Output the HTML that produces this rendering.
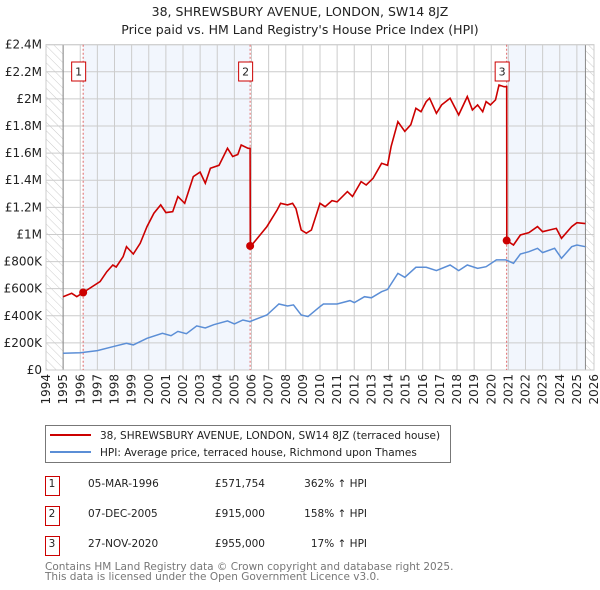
<!DOCTYPE html>
<html><head><meta charset="utf-8">
<style>
body{margin:0;background:#fff;font-family:"Liberation Sans","DejaVu Sans",sans-serif;}
#wrap{position:relative;width:600px;height:590px;overflow:hidden;}
svg text{font-family:"DejaVu Sans","Liberation Sans",sans-serif;}
</style></head>
<body>
<div id="wrap">
<svg id="chart" width="600" height="590" viewBox="0 0 600 590">
<defs>
<pattern id="hatch" width="6" height="6" patternUnits="userSpaceOnUse" patternTransform="rotate(-45)">
<rect width="6" height="6" fill="#fff"/><line x1="0" y1="0" x2="0" y2="6" stroke="#ccc" stroke-width="1"/>
</pattern>
</defs>
<text x="300" y="16" text-anchor="middle" font-size="12.5" fill="#222">38, SHREWSBURY AVENUE, LONDON, SW14 8JZ</text>
<text x="300" y="34" text-anchor="middle" font-size="12.5" fill="#222">Price paid vs. HM Land Registry's House Price Index (HPI)</text>
<g id="plot"></g>
<g>
<rect x="45.5" y="425.5" width="405" height="37" fill="#fff" stroke="#777"/>
<line x1="50" y1="435" x2="91" y2="435" stroke="#cc0000" stroke-width="2"/>
<text x="100" y="439" font-size="10.5" fill="#222">38, SHREWSBURY AVENUE, LONDON, SW14 8JZ (terraced house)</text>
<line x1="50" y1="452" x2="91" y2="452" stroke="#5b8ed6" stroke-width="2"/>
<text x="100" y="456" font-size="10.5" fill="#222">HPI: Average price, terraced house, Richmond upon Thames</text>
</g>
<g id="table"></g>
<text x="45" y="570" font-size="10.5" fill="#777">Contains HM Land Registry data © Crown copyright and database right 2025.</text>
<text x="45" y="580" font-size="10.5" fill="#777">This data is licensed under the Open Government Licence v3.0.</text>
</svg>
</div>
<script>
const hpiYears=[1995.0,1996.0,1997.0,1997.9,1998.7,1999.1,1999.9,2000.8,2001.3,2001.7,2002.2,2002.8,2003.3,2003.8,2004.6,2005.0,2005.5,2005.9,2006.9,2007.6,2008.1,2008.45,2008.9,2009.3,2010.0,2010.2,2011.0,2011.75,2012.0,2012.6,2013.0,2013.6,2013.95,2014.55,2014.95,2015.6,2016.2,2016.8,2017.6,2018.1,2018.6,2019.2,2019.7,2020.3,2020.85,2021.3,2021.7,2022.2,2022.7,2023.0,2023.7,2024.1,2024.7,2025.0,2025.5];
const hpiValues=[123000,128000,143000,172000,197000,185000,234000,271000,253000,285000,268000,325000,310000,334000,362000,340000,369000,357000,406000,487000,472000,480000,406000,394000,468000,487000,487000,512000,497000,541000,533000,578000,595000,713000,684000,758000,758000,733000,775000,733000,775000,750000,762000,812000,812000,787000,856000,873000,898000,866000,898000,824000,910000,922000,910000];
const priceYears=[1995.0,1995.5,1995.8,1996.17,1997.16,1997.55,1997.9,1998.1,1998.5,1998.7,1999.1,1999.5,1999.9,2000.3,2000.7,2001.0,2001.4,2001.7,2002.1,2002.6,2003.0,2003.3,2003.6,2004.1,2004.6,2004.9,2005.2,2005.4,2005.8,2005.92,2005.93,2006.1,2006.9,2007.5,2007.7,2008.1,2008.4,2008.6,2008.9,2009.2,2009.5,2010.0,2010.3,2010.7,2011.0,2011.6,2011.9,2012.4,2012.7,2013.1,2013.6,2013.95,2014.15,2014.55,2014.95,2015.3,2015.6,2015.9,2016.2,2016.4,2016.8,2017.1,2017.6,2018.1,2018.6,2018.9,2019.2,2019.5,2019.7,2019.95,2020.25,2020.45,2020.75,2020.9,2020.91,2021.3,2021.7,2022.2,2022.7,2023.0,2023.4,2023.8,2024.1,2024.7,2025.0,2025.5];
const priceValues=[541000,566000,541000,572000,652000,725000,775000,760000,836000,910000,856000,935000,1058000,1157000,1218000,1161000,1168000,1279000,1230000,1427000,1460000,1378000,1489000,1510000,1636000,1575000,1590000,1660000,1636000,1636000,915000,935000,1058000,1181000,1230000,1218000,1230000,1190000,1033000,1009000,1033000,1230000,1205000,1250000,1240000,1316000,1280000,1390000,1365000,1414000,1525000,1510000,1648000,1832000,1760000,1810000,1931000,1906000,1980000,2005000,1894000,1956000,2005000,1882000,2017000,1919000,1956000,1906000,1980000,1956000,1993000,2103000,2090000,2090000,955000,922000,996000,1013000,1058000,1020000,1033000,1045000,972000,1058000,1087000,1080000];
const saleLabels=["1","2","3"];
const saleYears=[1996.17,2005.92,2020.9];
const salePrices=[571754,915000,955000];
const saleDates=["05-MAR-1996","07-DEC-2005","27-NOV-2020"];
const salePriceText=["£571,754","£915,000","£955,000"];
const saleHpiText=["362% ↑ HPI","158% ↑ HPI","17% ↑ HPI"];
const yTickValues=[0,200000,400000,600000,800000,1000000,1200000,1400000,1600000,1800000,2000000,2200000,2400000];
const yTickLabels=["£0","£200K","£400K","£600K","£800K","£1M","£1.2M","£1.4M","£1.6M","£1.8M","£2M","£2.2M","£2.4M"];
const xTickYears=[1994,1995,1996,1997,1998,1999,2000,2001,2002,2003,2004,2005,2006,2007,2008,2009,2010,2011,2012,2013,2014,2015,2016,2017,2018,2019,2020,2021,2022,2023,2024,2025,2026];

const NS="http://www.w3.org/2000/svg";
const L=46,R=594,T=44.7,B=370,X0=1994,X1=2026,YMAX=2400000;
const xs=y=>L+(y-X0)/(X1-X0)*(R-L);
const ys=v=>B-v/YMAX*(B-T);
const plot=document.getElementById('plot');
function mk(tag,attrs,parent){const e=document.createElementNS(NS,tag);for(const k in attrs)e.setAttribute(k,attrs[k]);(parent||plot).appendChild(e);return e;}

let e;
e=mk('rect',{x:L,y:T,width:R-L,height:B-T,fill:'#fff'});


e=mk('rect',{x:L,y:T,width:xs(1995)-L,height:B-T,fill:'url(#hatch)'});


e=mk('rect',{x:xs(2025.5),y:T,width:R-xs(2025.5),height:B-T,fill:'url(#hatch)'});


e=mk('rect',{x:xs(saleYears[0]),y:T,width:xs(saleYears[1])-xs(saleYears[0]),height:B-T,fill:'#eef3fc',opacity:0.75});


e=mk('rect',{x:xs(saleYears[2]),y:T,width:xs(2025.5)-xs(saleYears[2]),height:B-T,fill:'#eef3fc',opacity:0.75});



yTickValues.forEach((v,i)=>{
  const y=ys(v);
  const g=mk('line',{x1:L,x2:R,y1:y,y2:y,stroke:'#ccc','stroke-width':1});
  
  
  const t=mk('text',{x:L-4,y:y+4,'text-anchor':'end','font-size':12,fill:'#222'});
  t.textContent=yTickLabels[i];
  
  
});
xTickYears.forEach(yr=>{
  const x=xs(yr);
  const g=mk('line',{x1:x,x2:x,y1:T,y2:B,stroke:'#ccc','stroke-width':1});
  
  
  const t=mk('text',{x:0,y:0,'text-anchor':'end','font-size':12,fill:'#222',transform:`translate(${x+4},${B+4}) rotate(-90)`});
  t.textContent=yr;
  
  
});
e=mk('line',{x1:xs(1995),x2:xs(1995),y1:T,y2:B,stroke:'#888','stroke-width':1});


e=mk('line',{x1:xs(2025.5),x2:xs(2025.5),y1:T,y2:B,stroke:'#888','stroke-width':1});


e=mk('rect',{x:L,y:T,width:R-L,height:B-T,fill:'none',stroke:'#ccc'});



saleYears.forEach((yr,i)=>{
  const x=xs(yr);
  const l=mk('line',{x1:x,x2:x,y1:T,y2:B,stroke:'#e06666','stroke-width':1,'stroke-dasharray':'2,2'});
  
  
});

const hp=hpiYears.map((y,i)=>xs(y).toFixed(1)+','+ys(hpiValues[i]).toFixed(1)).join(' ');
e=mk('polyline',{points:hp,fill:'none',stroke:'#5b8ed6','stroke-width':1.5});


const pp=priceYears.map((y,i)=>xs(y).toFixed(1)+','+ys(priceValues[i]).toFixed(1)).join(' ');
e=mk('polyline',{points:pp,fill:'none',stroke:'#cc0000','stroke-width':1.6});



saleYears.forEach((yr,i)=>{
  const c=mk('circle',{cx:xs(yr),cy:ys(salePrices[i]),r:4,fill:'#cc0000'});
  
  
  const bx=xs(yr)-4.5;
  const r=mk('rect',{x:bx-7,y:62,width:14,height:19,fill:'#fff',stroke:'#cc0000'});
  
  
  const t=mk('text',{x:bx,y:75.5,'text-anchor':'middle','font-size':11,fill:'#222'});
  t.textContent=saleLabels[i];
  
  
});

const tbl=document.getElementById('table');
saleLabels.forEach((lab,i)=>{
  const y=476+i*30;
  const r=mk('rect',{x:45.5,y:y+0.5,width:14,height:19,fill:'#fff',stroke:'#cc0000'},tbl);
  
  
  const cells=[[52,'middle',lab,'row-number'],[88,'start',saleDates[i],'row-date'],[265,'end',salePriceText[i],'row-price'],[367,'end',saleHpiText[i],'row-hpi-change']];
  cells.forEach(c=>{
    const t=mk('text',{x:c[0],y:y+11,'text-anchor':c[1],'font-size':10.5,fill:'#222'},tbl);
    t.textContent=c[2];
    
    
  });
});
</script>
</body></html>
